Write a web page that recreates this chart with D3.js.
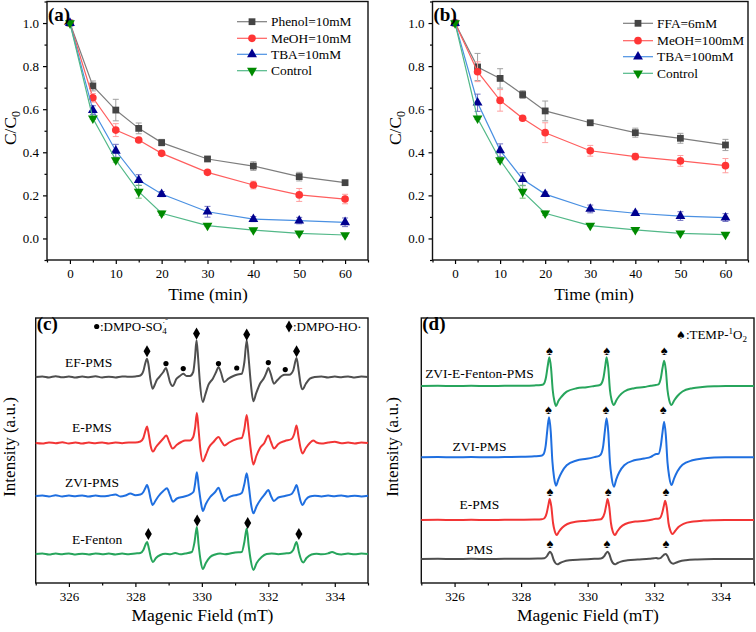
<!DOCTYPE html>
<html><head><meta charset="utf-8">
<script src="https://cdn.jsdelivr.net/npm/d3@7"></script>
<style>
body{margin:0;background:#fff}
svg{display:block}
text{font-family:"Liberation Serif","Times New Roman",serif;fill:#000}
</style>
</head><body>
<svg id="chart" width="756" height="632"></svg>
<script>
// ---------------- DATA ----------------
const times = [0,5,10,15,20,30,40,50,60];
const xMajorT = [0,10,20,30,40,50,60];
const xMinorT = [-5,5,15,25,35,45,55,65];
const yMajorT = [0,0.2,0.4,0.6,0.8,1.0];
const yMinorT = [-0.1,0.1,0.3,0.5,0.7,0.9,1.1];

// panel (a)
const labelsA = ["Phenol=10mM","MeOH=10mM","TBA=10mM","Control"];
const phenolA   = [1.0,0.708,0.596,0.511,0.445,0.369,0.336,0.287,0.259];
const phenolErrA= [0,0.023,0.05,0.025,0.015,0.008,0.02,0.02,0.008];
const meohA     = [1.0,0.653,0.503,0.457,0.395,0.307,0.248,0.202,0.183];
const meohErrA  = [0,0.02,0.03,0.008,0.008,0.008,0.018,0.03,0.022];
const tbaA      = [1.0,0.596,0.407,0.271,0.206,0.124,0.090,0.083,0.075];
const tbaErrA   = [0,0.02,0.03,0.025,0.012,0.025,0.012,0.015,0.02];
const controlA  = [1.0,0.558,0.364,0.217,0.117,0.060,0.039,0.024,0.016];
const controlErrA=[0,0.006,0.01,0.03,0.01,0.005,0.005,0.005,0.005];

// panel (b)
const labelsB = ["FFA=6mM","MeOH=100mM","TBA=100mM","Control"];
const ffaB      = [1.0,0.796,0.743,0.668,0.592,0.537,0.491,0.465,0.434];
const ffaErrB   = [0,0.063,0.045,0.018,0.046,0.006,0.021,0.023,0.026];
const meohB     = [1.0,0.774,0.641,0.558,0.491,0.407,0.380,0.360,0.338];
const meohErrB  = [0,0.046,0.05,0.008,0.046,0.025,0.015,0.025,0.033];
const tbaB      = [1.0,0.630,0.409,0.275,0.206,0.137,0.117,0.104,0.097];
const tbaErrB   = [0,0.04,0.03,0.03,0.01,0.018,0.01,0.02,0.018];
const controlB  = [1.0,0.558,0.364,0.217,0.117,0.060,0.040,0.024,0.018];
const controlErrB=[0,0.006,0.01,0.03,0.01,0.005,0.005,0.005,0.005];

// EPR field ticks
const fieldMajor = [326,328,330,332,334];
const fieldMinor = [325,327,329,331,333,335];

// panel (c) spectra: [field (mT), intensity (a.u.) relative to own baseline]
const namesC = ["EF-PMS","E-PMS","ZVI-PMS","E-Fenton"];
const baselineC = [206, 140, 87, 29];
const efPms = [[325,0],[325.2,0.6],[325.4,-0.4],[325.6,0.8],[325.8,-0.3],[326,0.5],[326.2,-0.6],[326.4,0.4],[326.6,-0.2],[326.8,0.7],[327,-0.5],[327.2,0.3],[327.4,-0.4],[327.6,0.6],[327.8,0.2],[328.0,0.6],[328.15,1.5],[328.24,6],[328.3,14],[328.35,18.3],[328.4,11],[328.45,-2],[328.52,-11.7],[328.58,-8],[328.64,-3.3],[328.72,0],[328.84,5],[328.92,9],[328.98,3],[329.04,-5],[329.12,-9],[329.24,-1.7],[329.34,1],[329.44,3.3],[329.54,1],[329.64,1],[329.74,5],[329.79,18],[329.84,36.7],[329.89,18],[329.94,-5],[330.03,-25],[330.1,-18],[330.2,-7.7],[330.33,-1.7],[330.43,5],[330.5,10],[330.57,5],[330.67,-5],[330.8,-1.7],[330.95,1],[331.05,2.3],[331.2,3.3],[331.28,15],[331.35,36.7],[331.41,18],[331.47,-5],[331.55,-24.3],[331.63,-16.7],[331.75,-6.7],[331.87,-1],[331.95,5],[332.0,9],[332.07,3.3],[332.17,-6.7],[332.27,-3.3],[332.4,1],[332.5,2.3],[332.63,2.3],[332.75,6.7],[332.85,19],[332.92,5],[332.97,-6.7],[333.03,-12.3],[333.13,-6.7],[333.25,-1.7],[333.4,0],[333.6,0.6],[333.8,-0.4],[334,0.5],[334.2,-0.3],[334.4,0.6],[334.6,-0.5],[334.8,0.4],[335,0]];
const ePmsC = [[325,0],[325.2,-0.5],[325.4,0.6],[325.6,-0.3],[325.8,0.7],[326,-0.4],[326.2,0.5],[326.4,-0.6],[326.6,0.4],[326.8,-0.3],[327,0.6],[327.2,-0.4],[327.4,0.5],[327.6,-0.2],[327.8,0.6],[328.0,0.5],[328.15,1.5],[328.24,5],[328.3,12],[328.35,16.5],[328.4,9],[328.46,-3],[328.53,-8.5],[328.62,-4],[328.72,0],[328.84,4.5],[328.93,7.5],[329.02,1],[329.12,-5.5],[329.24,-2],[329.38,1],[329.5,2.5],[329.64,2.5],[329.74,6],[329.8,16],[329.85,30],[329.9,14],[329.95,-5],[330.03,-18.5],[330.12,-12],[330.22,-4],[330.35,1],[330.5,6],[330.6,1],[330.68,-2.5],[330.82,0.5],[331.05,4],[331.2,5],[331.28,14],[331.35,28],[331.41,12],[331.47,-6],[331.55,-21.5],[331.64,-13],[331.75,-5],[331.88,0],[332.0,7.5],[332.08,1],[332.17,-5.5],[332.3,-1],[332.5,2],[332.7,4],[332.78,9],[332.85,17.5],[332.91,6],[332.97,-5],[333.03,-10.5],[333.13,-5],[333.25,0],[333.35,2.5],[333.45,0.5],[333.6,-0.5],[333.8,0.4],[334.0,1.2],[334.2,-0.3],[334.4,0.5],[334.6,-0.4],[334.8,0.6],[335,0]];
const zviPmsC = [[325,0],[325.2,0.5],[325.4,-0.4],[325.6,0.7],[325.8,-0.5],[326,0.4],[326.2,-0.3],[326.4,0.6],[326.6,-0.5],[326.8,0.5],[327,-0.3],[327.2,0.3],[327.4,1.5],[327.55,-0.5],[327.7,0.5],[327.85,2.6],[328.0,0.8],[328.15,1.5],[328.24,4],[328.3,8],[328.35,11],[328.41,5],[328.46,-3],[328.52,-9],[328.6,-5],[328.7,0],[328.84,5],[328.95,7.7],[329.04,1],[329.13,-5.7],[329.25,-2.5],[329.45,-0.7],[329.65,1.7],[329.75,4.3],[329.8,13],[329.85,23.7],[329.91,8],[329.97,-6],[330.03,-15],[330.12,-8],[330.25,-1],[330.4,4],[330.5,8.3],[330.58,2],[330.67,-5],[330.8,-1.5],[330.95,0.5],[331.05,1],[331.2,3],[331.28,12],[331.35,22.7],[331.42,8],[331.48,-8],[331.55,-17.3],[331.65,-10],[331.78,-3],[331.9,2],[332.0,6],[332.08,0],[332.17,-5],[332.3,-1.5],[332.5,0],[332.7,2],[332.78,6],[332.85,11],[332.92,2],[332.97,-5],[333.03,-9],[333.12,-4],[333.25,-0.5],[333.4,0.3],[333.6,-0.4],[333.8,0.5],[334,-0.3],[334.2,0.6],[334.4,-0.4],[334.6,0.3],[334.8,-0.5],[335,0.2]];
const eFentonC = [[325,0],[325.2,0.4],[325.4,-0.6],[325.6,0.5],[325.8,-0.3],[326,0.6],[326.2,-0.5],[326.4,0.3],[326.6,-0.4],[326.8,0.6],[327,-0.3],[327.2,0.5],[327.4,-0.5],[327.6,0.4],[327.8,-0.2],[328.0,0.5],[328.15,1],[328.24,4],[328.3,9],[328.35,12],[328.41,5],[328.47,-4],[328.53,-8],[328.62,-4],[328.75,-1],[328.9,0.3],[329.05,-0.3],[329.2,1],[329.35,-0.3],[329.5,0.5],[329.7,2],[329.78,12],[329.85,27],[329.9,10],[329.96,-6],[330.03,-15],[330.12,-9],[330.25,-3],[330.4,-0.5],[330.55,0.5],[330.7,-0.3],[330.85,0.4],[331.0,1.5],[331.2,2],[331.28,12],[331.35,25.5],[331.41,8],[331.47,-6],[331.55,-16],[331.65,-9],[331.8,-3],[331.95,0],[332.1,0.6],[332.3,-0.2],[332.5,0.5],[332.65,1],[332.75,4],[332.85,12],[332.92,2],[332.97,-4],[333.05,-8.5],[333.15,-4],[333.3,-0.5],[333.45,0.3],[333.6,-0.3],[333.8,0.6],[333.92,2],[334.05,0.3],[334.2,-0.4],[334.4,0.5],[334.6,-0.3],[334.8,0.5],[335,0]];
// peak markers in (c)
const hoFieldsEF = [328.35,329.84,331.35,332.85];
const hoLevelsEF = [25.7,43.4,42.4,25.7];
const soFieldsEF = [328.92,329.44,330.5,331.05,332.0,332.51];
const soLevelsEF = [13.4,8.4,13.4,9,14.4,7.4];
const hoFieldsFen = [328.39,329.86,331.38,332.92];
const hoLevelsFen = [20,33.5,31,20];

// panel (d) spectra
const namesD = ["ZVI-E-Fenton-PMS","ZVI-PMS","E-PMS","PMS"];
const baselineD = [197, 125.7, 63, 24];
const zviEFentonPms = [[325,0],[325.5,0.2],[326,0],[326.5,0.2],[327,0],[327.5,0.2],[328,0.3],[328.4,0.6],[328.6,1],[328.67,1.7],[328.75,9],[328.8,20],[328.85,28.7],[328.9,18],[328.95,-4],[329.0,-15],[329.05,-20],[329.12,-15],[329.22,-10.5],[329.37,-5.7],[329.67,-2.3],[329.97,-1.2],[330.2,0],[330.35,0.8],[330.4,1.7],[330.48,9],[330.53,20],[330.57,28.7],[330.62,18],[330.67,-4],[330.72,-14],[330.79,-19],[330.86,-14.5],[330.95,-10],[331.1,-5.5],[331.4,-2.2],[331.7,-1],[331.9,0.3],[332.05,1],[332.13,1.7],[332.2,8],[332.25,18],[332.3,25.3],[332.35,16],[332.4,-4],[332.45,-14],[332.52,-19],[332.6,-14.5],[332.7,-10],[332.85,-5.5],[333.15,-2.2],[333.45,-1],[333.8,-0.3],[334.2,0],[334.6,0.1],[335,0]];
const zviPmsD = [[325,0],[325.5,0.2],[326,0],[326.5,0.2],[327,0],[327.5,0.3],[328,0.5],[328.4,1],[328.6,1.5],[328.67,3],[328.74,12],[328.79,28],[328.84,40],[328.89,26],[328.94,-4],[328.99,-20],[329.05,-28.4],[329.12,-22],[329.22,-15],[329.37,-8],[329.67,-3.2],[329.97,-1.5],[330.2,0.2],[330.35,1.5],[330.4,3],[330.47,12],[330.52,27],[330.57,39],[330.62,25],[330.67,-5],[330.72,-20],[330.79,-29.4],[330.86,-22],[330.95,-15],[331.1,-8],[331.4,-3],[331.7,-1.2],[331.9,0.5],[332.0,2.5],[332.06,3.3],[332.13,3.5],[332.2,12],[332.25,25],[332.3,35.6],[332.35,22],[332.4,-5],[332.45,-19],[332.52,-27.7],[332.6,-21],[332.7,-14],[332.85,-7.5],[333.15,-3],[333.45,-1.2],[333.8,-0.3],[334.2,0],[334.6,0.1],[335,0]];
const ePmsD = [[325,0],[325.5,0.2],[326,0],[326.5,0.2],[327,0],[327.5,0.2],[328,0.3],[328.4,0.5],[328.62,0.8],[328.69,1.5],[328.77,7],[328.82,15],[328.86,21],[328.91,13],[328.96,-3],[329.01,-11],[329.07,-15],[329.14,-11.5],[329.24,-7.5],[329.39,-4],[329.69,-1.6],[329.99,-0.8],[330.2,0],[330.4,0.7],[330.43,1.5],[330.51,7],[330.56,15],[330.6,21],[330.65,13],[330.7,-3],[330.75,-11],[330.82,-15],[330.89,-11.5],[330.98,-7.5],[331.13,-4],[331.43,-1.6],[331.73,-0.8],[331.95,0.5],[332.05,1.3],[332.12,1.3],[332.17,1.8],[332.24,7],[332.29,14],[332.33,19.3],[332.38,12],[332.43,-3],[332.48,-10],[332.55,-14],[332.63,-11],[332.73,-7],[332.88,-3.8],[333.18,-1.5],[333.48,-0.6],[333.8,-0.2],[334.2,0],[334.6,0.1],[335,0]];
const pmsD = [[325,0],[325.5,0.2],[326,0],[326.5,0.2],[327,0],[327.5,0.2],[328,0.2],[328.5,0.4],[328.7,0.8],[328.78,3],[328.83,5.8],[328.87,7.3],[328.92,5],[328.98,-1],[329.03,-4],[329.09,-5.3],[329.17,-4],[329.27,-2.6],[329.45,-1.3],[329.8,-0.5],[330.1,0],[330.4,0.5],[330.5,2.8],[330.55,5.6],[330.6,7.3],[330.65,5],[330.71,-1],[330.76,-4],[330.83,-5.3],[330.9,-4],[331.0,-2.6],[331.2,-1.3],[331.5,-0.5],[331.85,0.2],[332.0,0.8],[332.06,1],[332.12,0.6],[332.2,1.2],[332.27,3.5],[332.31,4.6],[332.35,5],[332.4,3],[332.46,-1.5],[332.51,-3.8],[332.57,-4.7],[332.65,-3.8],[332.75,-2.5],[332.95,-1.2],[333.3,-0.4],[333.8,0],[334.4,0.1],[335,0]];
const spadeFieldsD = [[328.85,330.57,332.3],[328.82,330.55,332.27],[328.87,330.62,332.35],[328.87,330.58,332.35]];
const spadeLevelsD = [36, 48, 29, 15.7];

// ---------------- DRAWING ----------------
const FONT = '"Liberation Serif","Times New Roman",serif';
const svg = d3.select("#chart");

const kinColors = [
  {m:"#444444", l:"#7d7d7d", e:"#a0a0a0", sym:d3.symbolSquare, size:46, rot:0},
  {m:"#ff3535", l:"#ff5e5e", e:"#ff9f9f", sym:d3.symbolCircle, size:46, rot:0},
  {m:"#00008f", l:"#4a90e2", e:"#7070c0", sym:d3.symbolTriangle, size:42, rot:0},
  {m:"#008a00", l:"#52b888", e:"#70c070", sym:d3.symbolTriangle, size:42, rot:180}
];

function styleAxis(sel){
  sel.attr("font-family", FONT).attr("font-size", 13);
  sel.select(".domain").remove();
  sel.selectAll(".tick line").attr("stroke","#000").attr("stroke-width",1.2);
  sel.selectAll(".tick text").attr("fill","#000");
}

function kinetic(o){
  const x = d3.scaleLinear().domain([-5,65]).range([o.x0,o.x1]);
  const y = d3.scaleLinear().domain([-0.1,1.1]).range([o.y1,o.y0]);
  const g = svg.append("g");
  g.append("g").attr("transform",`translate(0,${o.y1})`)
    .call(d3.axisBottom(x).tickValues(xMajorT).tickSize(4).tickPadding(5).tickSizeOuter(0)).call(styleAxis);
  g.append("g").attr("transform",`translate(0,${o.y1})`)
    .call(d3.axisBottom(x).tickValues(xMinorT).tickSize(2.5).tickFormat("").tickSizeOuter(0)).call(styleAxis);
  g.append("g").attr("transform",`translate(${o.x0},0)`)
    .call(d3.axisLeft(y).tickValues(yMajorT).tickSize(4).tickPadding(4).tickFormat(d3.format(".1f")).tickSizeOuter(0)).call(styleAxis);
  g.append("g").attr("transform",`translate(${o.x0},0)`)
    .call(d3.axisLeft(y).tickValues(yMinorT).tickSize(2.5).tickFormat("").tickSizeOuter(0)).call(styleAxis);
  g.append("rect").attr("x",o.x0).attr("y",o.y0).attr("width",o.x1-o.x0).attr("height",o.y1-o.y0)
    .attr("fill","none").attr("stroke","#111").attr("stroke-width",1.4);

  const line = d3.line().x((d,i)=>x(times[i])).y(d=>y(d));
  o.series.forEach((s,k)=>{
    const c = kinColors[k];
    g.append("path").datum(s.v).attr("d",line).attr("fill","none").attr("stroke",c.l).attr("stroke-width",1.2);
    const eb = g.append("g").attr("stroke",c.e).attr("stroke-width",1);
    s.v.forEach((v,i)=>{
      const e = s.e[i]; if(!e) return;
      const xx = x(times[i]);
      eb.append("line").attr("x1",xx).attr("x2",xx).attr("y1",y(v-e)).attr("y2",y(v+e));
      eb.append("line").attr("x1",xx-3).attr("x2",xx+3).attr("y1",y(v-e)).attr("y2",y(v-e));
      eb.append("line").attr("x1",xx-3).attr("x2",xx+3).attr("y1",y(v+e)).attr("y2",y(v+e));
    });
    g.selectAll(null).data(s.v).enter().append("path")
      .attr("d", d3.symbol().type(c.sym).size(c.size))
      .attr("transform",(d,i)=>`translate(${x(times[i])},${y(d)}) rotate(${c.rot})`)
      .attr("fill",c.m);
  });
  o.labels.forEach((lab,k)=>{
    const c = kinColors[k];
    const ly = o.legY[k];
    g.append("line").attr("x1",o.legX).attr("x2",o.legX+30).attr("y1",ly).attr("y2",ly).attr("stroke",c.l).attr("stroke-width",1.2);
    g.append("path").attr("d",d3.symbol().type(c.sym).size(c.size)).attr("transform",`translate(${o.legX+15},${ly}) rotate(${c.rot})`).attr("fill",c.m);
    g.append("text").attr("x",o.legX+34).attr("y",ly+4.6).attr("font-size",13.4).text(lab);
  });
  g.append("text").attr("x",o.x0+1).attr("y",21).attr("font-size",19).attr("font-weight","bold").text(o.tag);
  g.append("text").attr("x",o.titleX).attr("y",300).attr("text-anchor","middle").attr("font-size",17.5).text("Time (min)");
  const yt = g.append("text").attr("transform",`translate(${o.yTitleX},128) rotate(-90)`).attr("text-anchor","middle").attr("font-size",17.5);
  yt.append("tspan").text("C/C");
  yt.append("tspan").attr("font-size",12).attr("dy",4).text("0");
}

kinetic({x0:47,x1:368,y0:1.5,y1:260,tag:"(a)",titleX:208,yTitleX:16,legX:237,legY:[21.7,38.3,54.3,70.7],labels:labelsA,
  series:[{v:phenolA,e:phenolErrA},{v:meohA,e:meohErrA},{v:tbaA,e:tbaErrA},{v:controlA,e:controlErrA}]});
kinetic({x0:432.5,x1:748,y0:1.5,y1:260,tag:"(b)",titleX:594,yTitleX:401,legX:623,legY:[23.3,40.7,56.7,73.3],labels:labelsB,
  series:[{v:ffaB,e:ffaErrB},{v:meohB,e:meohErrB},{v:tbaB,e:tbaErrB},{v:controlB,e:controlErrB}]});

// ---------- EPR panels ----------
function eprFrame(o){
  const x = d3.scaleLinear().domain([325,335]).range([o.x0,o.x1]);
  const y = d3.scaleLinear().domain([0,265]).range([o.y1,o.y0]);
  const g = svg.append("g");
  g.append("g").attr("transform",`translate(0,${o.y1})`)
    .call(d3.axisBottom(x).tickValues(fieldMajor).tickSize(4).tickPadding(5).tickSizeOuter(0)).call(styleAxis);
  g.append("g").attr("transform",`translate(0,${o.y1})`)
    .call(d3.axisBottom(x).tickValues(fieldMinor).tickSize(2.5).tickFormat("").tickSizeOuter(0)).call(styleAxis);
  g.append("rect").attr("x",o.x0).attr("y",o.y0).attr("width",o.x1-o.x0).attr("height",o.y1-o.y0)
    .attr("fill","none").attr("stroke","#111").attr("stroke-width",1.4);
  g.append("text").attr("x",o.titleX).attr("y",621).attr("text-anchor","middle").attr("font-size",17.5).text("Magenic Field (mT)");
  g.append("text").attr("transform",`translate(${o.yTitleX},447) rotate(-90)`).attr("text-anchor","middle").attr("font-size",17).text("Intensity (a.u.)");
  g.append("text").attr("x",o.x0+1).attr("y",330).attr("font-size",19).attr("font-weight","bold").text(o.tag);
  return {g,x,y};
}
function drawSpectrum(P, data, base, color){
  const line = d3.line().x(d=>P.x(d[0])).y(d=>P.y(base+d[1])).curve(d3.curveMonotoneX);
  P.g.append("path").datum(data).attr("d",line).attr("fill","none").attr("stroke",color)
    .attr("stroke-width",2).attr("stroke-linejoin","round");
}

// (c)
const C = eprFrame({x0:35.7,x1:368,y0:318,y1:583,tag:"(c)",titleX:202.5,yTitleX:15});
const colorsC = ["#4f4f4f","#f23535","#1f6fe0","#27a55c"];
[efPms,ePmsC,zviPmsC,eFentonC].forEach((s,i)=>drawSpectrum(C,s,baselineC[i],colorsC[i]));
const labPosC = [[65,367],[72,432],[65,487],[72,544]];
namesC.forEach((n,i)=>C.g.append("text").attr("x",labPosC[i][0]).attr("y",labPosC[i][1]).attr("font-size",13.5).text(n));
const diamond = d3.symbol().type(d3.symbolDiamond).size(42);
hoFieldsEF.forEach((f,i)=>C.g.append("path").attr("d",diamond).attr("fill","#000")
  .attr("transform",`translate(${C.x(f)},${C.y(baselineC[0]+hoLevelsEF[i])})`));
soFieldsEF.forEach((f,i)=>C.g.append("circle").attr("r",2.6).attr("fill","#000")
  .attr("cx",C.x(f)).attr("cy",C.y(baselineC[0]+soLevelsEF[i])));
hoFieldsFen.forEach((f,i)=>C.g.append("path").attr("d",diamond).attr("fill","#000")
  .attr("transform",`translate(${C.x(f)},${C.y(baselineC[3]+hoLevelsFen[i])})`));
C.g.append("circle").attr("cx",96.7).attr("cy",326.5).attr("r",2.6).attr("fill","#000");
const soT = C.g.append("text").attr("x",100).attr("y",330.5).attr("font-size",13);
soT.append("tspan").text(":DMPO-SO");
soT.append("tspan").attr("font-size",9).attr("dy",3).text("4");
soT.append("tspan").attr("font-size",9).attr("dx",-4.5).attr("dy",-9).text("·⁻");
C.g.append("path").attr("d",diamond).attr("fill","#000").attr("transform","translate(289,326.5)");
C.g.append("text").attr("x",293).attr("y",330.5).attr("font-size",13).text(":DMPO-HO·");

// (d)
const D = eprFrame({x0:421.3,x1:754,y0:318,y1:583,tag:"(d)",titleX:588,yTitleX:398});
const colorsD = ["#27a55c","#1f6fe0","#f23535","#4f4f4f"];
[zviEFentonPms,zviPmsD,ePmsD,pmsD].forEach((s,i)=>drawSpectrum(D,s,baselineD[i],colorsD[i]));
const labYD = [377.5,451,509,554];
namesD.forEach((n,i)=>D.g.append("text").attr("x",479.5).attr("y",labYD[i]).attr("text-anchor","middle").attr("font-size",13.5).text(n));
spadeFieldsD.forEach((fs,i)=>fs.forEach(f=>D.g.append("text").attr("x",D.x(f)).attr("y",D.y(baselineD[i]+spadeLevelsD[i])+4.5)
  .attr("text-anchor","middle").attr("font-size",13).attr("font-family","DejaVu Sans").text("♠")));
const tT = D.g.append("text").attr("x",676).attr("y",339).attr("font-size",13);
tT.append("tspan").attr("font-family","DejaVu Sans").attr("font-size",11).text("♠");
tT.append("tspan").text(":TEMP-");
tT.append("tspan").attr("font-size",9).attr("dy",-5).text("1");
tT.append("tspan").attr("dy",5).text("O");
tT.append("tspan").attr("font-size",9).attr("dy",3).text("2");
</script>
</body></html>
